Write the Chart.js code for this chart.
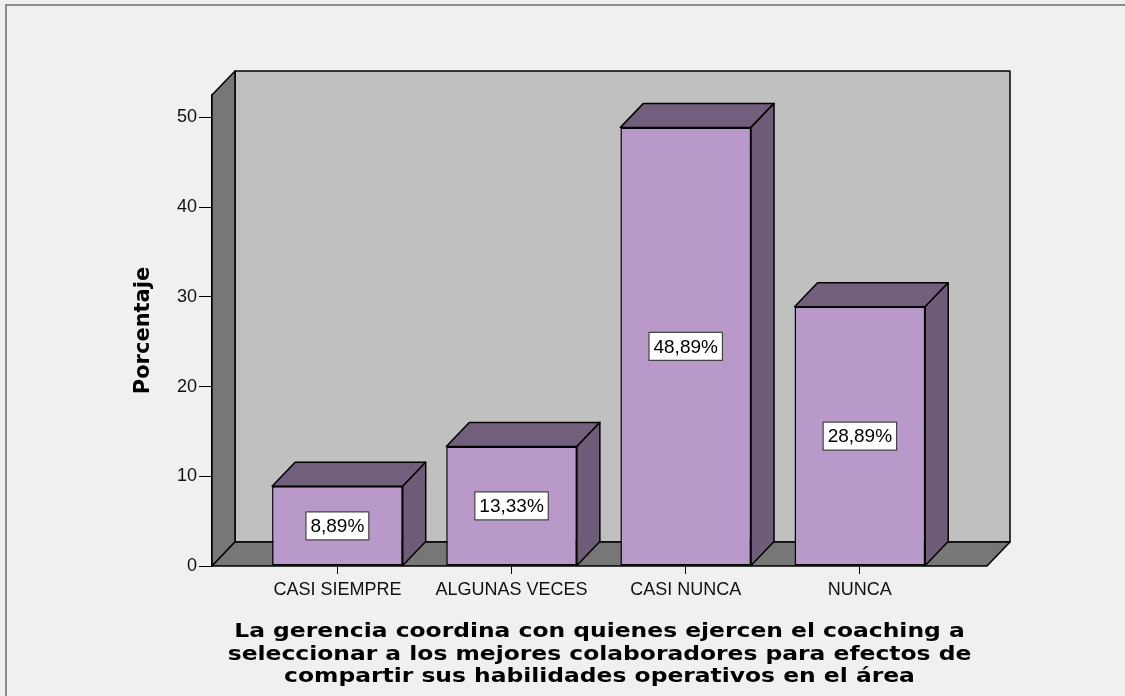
<!DOCTYPE html>
<html>
<head>
<meta charset="utf-8">
<script src="https://cdn.jsdelivr.net/npm/chart.js@4"></script>
<style>
body { margin: 0; background: #f0f0f0; }
</style>
</head>
<body>
<canvas id="grafico" width="1125" height="696"></canvas>
<script>
// datos
const categorias = ['CASI SIEMPRE', 'ALGUNAS VECES', 'CASI NUNCA', 'NUNCA'];
const porcentajes = [8.89, 13.33, 48.89, 28.89];
const ticksY = [0, 10, 20, 30, 40, 50];
const tituloX = [
    'La gerencia coordina con quienes ejercen el coaching a',
    'seleccionar a los mejores colaboradores para efectos de',
    'compartir sus habilidades operativos en el área'
];
const tituloY = 'Porcentaje';

// colores estilo SPSS
const FONDO = '#f0f0f0';
const PARED = '#c0c0c0';
const PISO = '#777777';
const FRENTE = '#b899c9';
const TAPA = '#725f7d';
const LADO = '#6e5c78';
const DX = 23, DY = 24;   // profundidad 3D

const FUENTE = '"Liberation Sans", Arial, sans-serif';
const FUENTE_TITULO = '"DejaVu Sans", Verdana, sans-serif';
Chart.defaults.font.family = FUENTE;
Chart.defaults.color = '#000';

function poligono(ctx, pts, color) {
    ctx.beginPath();
    ctx.moveTo(pts[0][0], pts[0][1]);
    pts.slice(1).forEach(p => ctx.lineTo(p[0], p[1]));
    ctx.closePath();
    ctx.fillStyle = color;
    ctx.fill();
    ctx.stroke();
}

const efecto3d = {
    id: 'efecto3d',
    beforeDraw(chart) {
        const ctx = chart.ctx;
        ctx.save();
        ctx.fillStyle = FONDO;
        ctx.fillRect(0, 0, chart.width, chart.height);
        ctx.strokeStyle = '#8c8c8c';
        ctx.lineWidth = 2;
        ctx.strokeRect(6, 5, chart.width + 20, chart.height + 20);
        ctx.restore();
    },
    beforeDatasetsDraw(chart) {
        const {ctx, chartArea: a} = chart;
        ctx.save();
        ctx.strokeStyle = '#000';
        ctx.lineWidth = 1.5;
        ctx.lineJoin = 'round';
        // pared del fondo
        poligono(ctx, [[a.left + DX, a.top - DY], [a.right + DX, a.top - DY], [a.right + DX, a.bottom - DY], [a.left + DX, a.bottom - DY]], PARED);
        // pared izquierda
        poligono(ctx, [[a.left, a.top], [a.left + DX, a.top - DY], [a.left + DX, a.bottom - DY], [a.left, a.bottom]], PISO);
        // piso
        poligono(ctx, [[a.left, a.bottom], [a.left + DX, a.bottom - DY], [a.right + DX, a.bottom - DY], [a.right, a.bottom]], PISO);
        ctx.restore();
    },
    afterDatasetsDraw(chart) {
        const ctx = chart.ctx;
        ctx.save();
        ctx.lineJoin = 'round';
        chart.getDatasetMeta(0).data.forEach((bar, i) => {
            const {x, y, base, width} = bar.getProps(['x', 'y', 'base', 'width'], true);
            const l = x - width / 2, r = x + width / 2;
            ctx.strokeStyle = '#000';
            ctx.lineWidth = 1.5;
            poligono(ctx, [[l, y], [l + DX, y - DY], [r + DX, y - DY], [r, y]], TAPA);
            poligono(ctx, [[r, y], [r + DX, y - DY], [r + DX, base - DY], [r, base]], LADO);

            // etiqueta con el porcentaje
            const txt = porcentajes[i].toFixed(2).replace('.', ',') + '%';
            ctx.font = '19px ' + FUENTE;
            const w = ctx.measureText(txt).width + 9, h = 28;
            const cy = (y + base) / 2;
            ctx.fillStyle = '#fff';
            ctx.fillRect(x - w / 2, cy - h / 2, w, h);
            ctx.lineWidth = 1.2;
            ctx.strokeStyle = '#444';
            ctx.strokeRect(x - w / 2, cy - h / 2, w, h);
            ctx.fillStyle = '#000';
            ctx.textAlign = 'center';
            ctx.textBaseline = 'middle';
            ctx.fillText(txt, x, cy + 1);
        });
        ctx.restore();
    },
    afterDraw(chart) {
        // título del eje X, algo ensanchado como en SPSS
        const {ctx, chartArea: a} = chart;
        ctx.save();
        ctx.font = 'bold 20px ' + FUENTE_TITULO;
        ctx.fillStyle = '#000';
        ctx.textAlign = 'center';
        ctx.textBaseline = 'middle';
        const cx = (a.left + a.right) / 2;
        tituloX.forEach((linea, i) => {
            ctx.save();
            ctx.translate(cx, a.bottom + 66 + i * 22.5);
            ctx.scale(1.17, 1);
            ctx.fillText(linea, 0, 0);
            ctx.restore();
        });
        ctx.restore();
    }
};

new Chart(document.getElementById('grafico'), {
    type: 'bar',
    data: {
        datasets: [{
            data: porcentajes.map((v, i) => ({x: i, y: v})),
            backgroundColor: FRENTE,
            borderColor: '#000',
            borderWidth: 1.5,
            borderSkipped: false,
            barPercentage: 0.75,
            categoryPercentage: 1
        }]
    },
    options: {
        responsive: false,
        animation: false,
        layout: {
            padding: {top: 95, right: 138, left: 0, bottom: 0}
        },
        plugins: {
            legend: {display: false},
            tooltip: {enabled: false}
        },
        scales: {
            x: {
                type: 'linear',
                min: -0.72,
                max: 3.73,
                offset: false,
                afterBuildTicks: s => { s.ticks = categorias.map((c, i) => ({value: i})); },
                afterFit: s => { s.height = 130; },
                grid: {drawOnChartArea: false, offset: false, color: '#000', tickLength: 8},
                border: {display: false},
                ticks: {
                    autoSkip: false,
                    maxRotation: 0,
                    padding: 5,
                    font: {size: 18},
                    color: '#111',
                    callback: v => categorias[v]
                }
            },
            y: {
                min: 0,
                max: 52.5,
                afterBuildTicks: s => { s.ticks = ticksY.map(v => ({value: v})); },
                afterFit: s => { s.width = 212; },
                grid: {drawOnChartArea: false, color: '#000', tickLength: 13},
                border: {display: true, color: '#000', width: 1.5},
                ticks: {
                    padding: 2,
                    font: {size: 18},
                    color: '#111'
                },
                title: {
                    display: true,
                    text: tituloY,
                    font: {family: FUENTE_TITULO, size: 21, weight: 'bold'},
                    padding: {top: 131, bottom: 0}
                }
            }
        }
    },
    plugins: [efecto3d]
});
</script>
</body>
</html>
